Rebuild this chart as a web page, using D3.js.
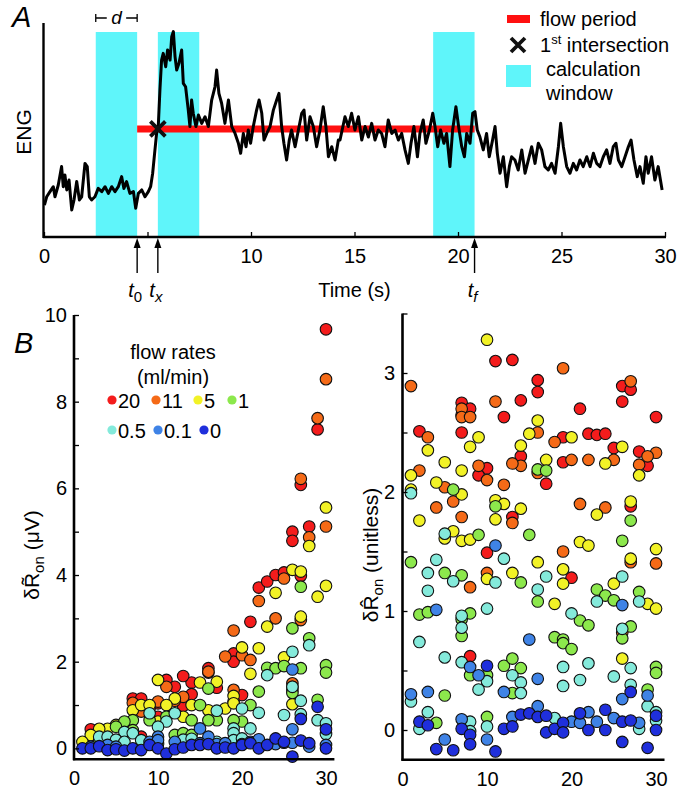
<!DOCTYPE html>
<html>
<head>
<meta charset="utf-8">
<script src="https://cdn.jsdelivr.net/npm/d3@7"></script>
<style>
body { margin: 0; background: #fff; }
svg { display: block; font-family: "Liberation Sans", Arial, sans-serif; }
</style>
</head>
<body>
<script>
"use strict";

// ---------------- panel A data (time in s, ENG in arbitrary units 0-100)
var engTrace = [[0.02,14.9],[0.13,18.8],[0.29,21.2],[0.45,23.5],[0.53,18.8],[0.69,24.3],[0.85,32.9],[0.93,23.5],[1.01,29.0],[1.10,22.0],[1.21,26.6],[1.34,12.6],[1.45,17.3],[1.58,25.9],[1.71,17.3],[1.82,18.8],[1.98,34.4],[2.09,32.9],[2.19,18.8],[2.30,17.3],[2.46,18.8],[2.62,22.7],[2.79,21.2],[2.95,23.5],[3.11,20.4],[3.27,23.5],[3.43,21.2],[3.59,23.5],[3.75,28.2],[3.86,22.7],[3.99,25.9],[4.15,20.4],[4.32,21.2],[4.43,13.4],[4.56,20.4],[4.72,22.0],[4.88,18.8],[5.04,21.2],[5.15,23.5],[5.25,29.8],[5.36,40.7],[5.44,48.4],[5.52,51.6],[5.60,68.7],[5.68,82.7],[5.76,85.8],[5.88,79.6],[5.97,87.4],[6.09,82.7],[6.17,93.6],[6.25,96.0],[6.33,84.3],[6.41,78.0],[6.52,81.2],[6.65,87.4],[6.73,71.8],[6.84,70.2],[6.97,59.3],[7.05,51.6],[7.13,64.0],[7.21,57.8],[7.34,51.6],[7.46,57.0],[7.62,53.1],[7.78,56.2],[7.94,51.6],[8.10,64.0],[8.26,70.2],[8.34,78.0],[8.45,67.1],[8.58,62.5],[8.74,53.1],[8.91,64.0],[9.07,51.6],[9.23,48.4],[9.39,43.8],[9.50,39.1],[9.63,48.4],[9.76,42.2],[9.87,50.0],[9.98,43.8],[10.11,51.6],[10.27,59.3],[10.39,64.0],[10.52,57.8],[10.63,45.3],[10.76,48.4],[10.92,51.6],[11.08,59.3],[11.24,64.0],[11.35,67.1],[11.48,51.6],[11.59,43.8],[11.72,36.0],[11.85,45.3],[11.96,50.0],[12.13,42.2],[12.29,50.0],[12.45,57.8],[12.56,59.3],[12.69,45.3],[12.85,56.2],[13.01,51.6],[13.17,42.2],[13.33,50.0],[13.49,60.9],[13.62,51.6],[13.74,37.5],[13.90,42.2],[14.06,36.0],[14.22,45.3],
  [14.30,45.3],[14.54,56.2],[14.70,51.6],[14.86,57.8],[15.02,50.0],[15.19,56.2],[15.35,45.3],[15.51,51.6],[15.67,46.7],[15.83,53.1],[15.99,45.3],[16.15,50.0],[16.31,48.4],[16.47,42.2],[16.63,54.7],[16.80,48.4],[16.96,50.0],[17.12,45.3],[17.28,48.4],[17.44,40.7],[17.60,34.4],[17.73,43.8],[17.87,51.6],[18.04,37.5],[18.16,48.4],[18.32,54.7],[18.45,43.8],[18.62,50.0],[18.78,57.8],[18.89,51.6],[19.02,42.2],[19.16,50.0],[19.32,43.8],[19.45,48.4],[19.61,32.9],[19.74,50.0],[19.90,60.9],[20.03,51.6],[20.18,42.2],[20.31,37.5],[20.42,48.4],[20.58,43.8],[20.71,57.8],[20.82,58.6],[20.93,50.0],[21.06,46.7],[21.22,40.7],[21.38,48.4],[21.51,37.5],[21.67,45.3],[21.79,51.6],[21.90,39.1],[22.03,29.8],[22.19,37.5],[22.35,23.5],[22.48,32.9],[22.59,37.5],[22.75,36.0],[22.91,31.3],[23.08,40.7],[23.24,29.8],[23.40,36.0],[23.56,42.2],[23.72,34.4],[23.88,43.8],[24.04,40.7],[24.20,32.9],[24.36,31.3],[24.52,34.4],[24.69,29.8],[24.85,42.2],[24.96,53.1],[25.09,42.2],[25.25,32.9],[25.41,29.8],[25.57,34.4],[25.73,31.3],[25.89,36.0],[26.05,32.9],[26.22,37.5],[26.38,32.9],[26.54,39.1],[26.70,34.4],[26.86,32.9],[27.02,37.5],[27.18,40.7],[27.34,34.4],[27.50,42.2],[27.63,43.8],[27.75,36.0],[27.91,32.9],[28.07,37.5],[28.23,42.2],[28.36,45.3],[28.50,36.0],[28.66,28.2],[28.79,32.9],[28.95,25.1],[29.08,37.5],[29.19,29.8],[29.35,37.5],[29.51,26.6],[29.67,32.9],[29.78,26.6],[29.86,22.0]];
var flowPeriod = [4.5, 20.8];
var flowLevel = 50.5;
var intersection = [5.5, 50.5];
var calcWindows = [[2.5, 4.5], [5.5, 7.5], [18.8, 20.8]];
var eventTimes = [4.5, 5.5, 20.8];
var eventSubs = ["0", "x", "f"];
var timeTicks = [0, 5, 10, 15, 20, 25, 30];

// ---------------- panel B data: [trial, value] per flow rate (ml/min)
var flowRates = ["20", "11", "5", "1", "0.5", "0.1", "0"];
var rateColors = ["#f41c1c", "#f56a17", "#f2f226", "#8ce84c", "#84eadb", "#3f83e6", "#1f2fdc"];

var leftRate20 = [[30,9.67],[29,7.36],[27,6.08],[26,5.0],[26,4.79],[28,5.12],[22,3.71],[23,3.85],[24,4.0],[25,4.06],[27,3.98],[21,2.92],[19,2.19],[19,2.0],[16,1.85],[16,1.75],[17,1.4],[14,1.52],[13,1.67],[11,1.58],[12,1.42],[14,1.25],[13,0.98],[10,1.04],[9,0.92],[7,1.15],[8,1.15],[10,0.73],[20,1.23],[2,0.44],[8,0.27]];
var leftRate11 = [[30,8.52],[29,7.62],[27,6.22],[30,5.12],[28,4.87],[25,3.92],[22,3.4],[24,3.0],[27,2.96],[19,2.72],[20,2.15],[18,2.12],[21,2.04],[16,1.77],[11,1.42],[13,1.19],[10,1.08],[7,1.05],[8,0.85],[19,1.35],[26,1.5],[26,1.42],[12,1.1]];
var leftRate5 = [[30,5.56],[28,4.67],[26,4.12],[27,4.08],[24,3.59],[30,3.75],[29,3.5],[23,2.81],[27,3.04],[22,2.31],[20,2.33],[25,2.1],[21,1.72],[17,1.54],[15,1.52],[10,1.58],[12,1.15],[14,1.0],[11,1.0],[7,0.88],[8,1.0],[10,0.62],[13,0.73],[16,0.88],[18,0.92],[19,1.08],[19,1.21],[19,1.04],[26,1.02],[6,0.54],[5,0.54],[4,0.45],[3,0.45],[2,0.31],[1,0.15],[9,1.0]];
var leftRate1 = [[27,3.73],[26,2.77],[28,2.54],[23,1.86],[24,1.85],[25,1.9],[27,1.85],[30,1.92],[30,1.75],[16,1.38],[15,1.0],[21,1.0],[22,1.31],[20,0.62],[19,0.65],[17,0.65],[16,0.65],[14,0.65],[26,1.35],[26,1.28],[29,1.12],[12,0.31],[13,0.35],[14,0.31],[11,0.73],[9,0.65],[10,0.1],[7,0.65],[6,0.62],[5,0.5],[3,0.19],[5,0.12],[7,0.42]];
var leftRate05 = [[28,2.38],[26,2.23],[23,1.69],[17,0.87],[20,0.92],[22,0.82],[21,0.46],[19,0.46],[19,0.35],[27,1.1],[25,0.77],[27,0.79],[29,0.65],[30,0.58],[30,0.33],[12,0.81],[11,0.62],[9,0.81],[10,0.5],[6,0.38],[3,0.27],[4,0.27],[7,0.35],[8,0.19],[5,0.2],[6,0.15],[13,0.2],[14,0.22],[17,0.15],[19,0.19],[20,0.23],[26,1.42]];
var leftRate01 = [[26,1.82],[15,0.46],[16,0.27],[10,0.27],[26,0.44],[2,0.04],[4,0.08],[5,0.04],[9,0.15],[10,0.19],[12,0.15],[15,0.12],[17,0.1],[18,0.12],[20,0.1],[21,0.15],[22,0.21],[24,0.1],[25,0.13],[28,0.04],[30,0.08],[26,0.13]];
var leftRate0 = [[29,0.96],[27,0.68],[30,0.44],[1,0],[2,0],[3,0.05],[4,-0.04],[5,-0.02],[6,-0.05],[7,0],[8,-0.04],[9,0.08],[10,0],[11,-0.12],[12,-0.02],[13,0.02],[14,0.08],[15,0.08],[16,0.1],[17,0],[18,0.02],[19,0],[20,0.08],[21,0.12],[22,0],[23,0.08],[24,0.23],[25,0.15],[26,-0.19],[27,0.18],[28,0.12],[30,0]];

var rightRate20 = [[11,3.10],[13,3.11],[16,2.94],[16,2.84],[26,2.89],[27,2.86],[26,2.76],[14,2.77],[21,2.70],[30,2.63],[12,2.63],[7,2.75],[8,2.70],[7,2.65],[2,2.51],[7,2.50],[14,2.30],[19,2.46],[22,2.49],[23,2.48],[24,2.49],[25,2.37],[28,2.34],[29,2.22],[19,2.25],[17,2.07],[10,2.20],[9,2.14],[27,1.88],[13,1.79],[10,1.49],[20,1.28],[8,0.62]];
var rightRate11 = [[19,3.04],[1,2.89],[27,2.93],[11,2.76],[7,2.70],[7,2.63],[8,2.63],[3,2.46],[16,2.50],[14,2.22],[13,2.24],[18,2.42],[25,2.27],[30,2.33],[29,2.30],[28,2.23],[20,2.27],[22,2.27],[16,2.16],[9,2.22],[10,2.10],[12,2.06],[2,2.18],[5,2.04],[6,1.92],[4,1.87],[21,1.90],[24,1.87],[7,1.79],[13,1.74],[19,1.50],[10,1.32],[8,1.20],[27,1.41],[30,1.40],[26,0.82]];
var rightRate5 = [[10,3.28],[9,2.46],[8,2.38],[3,2.35],[16,2.60],[15,2.49],[14,2.39],[20,2.46],[26,2.38],[28,2.14],[24,2.24],[17,2.27],[5,2.25],[7,2.18],[1,2.14],[1,2.02],[4,2.08],[7,1.98],[11,1.93],[12,1.90],[14,1.86],[27,1.92],[11,1.77],[23,1.81],[2,1.76],[5,1.61],[6,1.67],[7,1.59],[8,1.60],[21,1.58],[22,1.55],[30,1.52],[10,1.27],[13,1.32],[16,1.41],[19,1.35],[19,1.23],[25,1.23],[27,1.44],[18,1.06],[29,1.06],[30,1.02],[26,0.60]];
var rightRate1 = [[16,2.19],[17,2.18],[6,2.02],[11,1.88],[27,1.76],[9,1.64],[15,1.64],[26,1.59],[1,1.41],[5,1.32],[7,1.30],[14,1.24],[16,1.08],[23,1.18],[24,1.13],[25,1.09],[28,1.16],[2,0.97],[3,0.99],[7,0.93],[7,0.79],[8,0.98],[21,0.92],[22,0.88],[18,0.78],[19,0.76],[19,0.73],[20,0.68],[26,0.77],[27,0.87],[8,0.46],[10,0.46],[12,0.54],[13,0.60],[14,0.52],[13,0.31],[30,0.53],[30,0.48],[5,0.29],[29,0.34],[4,0.06],[10,0.11]];
var rightRate05 = [[1,1.99],[5,1.65],[4,1.43],[3,1.32],[3,1.17],[6,1.25],[11,1.24],[12,1.44],[17,1.29],[16,1.18],[26,1.29],[23,1.08],[28,1.08],[10,1.02],[20,0.98],[2,0.74],[7,0.96],[7,0.86],[26,0.85],[5,0.61],[7,0.57],[10,0.41],[9,0.34],[13,0.46],[14,0.40],[14,0.31],[19,0.53],[19,0.37],[21,0.42],[22,0.56],[25,0.45],[27,0.52],[27,0.38],[1,0.24],[29,0.20],[3,0.15],[2,0.01],[8,0.07],[8,-0.01],[10,0.03],[18,0.10],[28,0.01],[30,0.15],[30,0.08]];
var rightRate01 = [[11,1.55],[4,1.01],[26,1.05],[15,0.76],[8,0.53],[9,0.46],[16,0.43],[12,0.32],[26,0.26],[1,0.30],[3,0.32],[29,0.29],[7,0.09],[16,0.20],[13,0.11],[20,0.07],[22,0.15],[23,0.07],[25,0.10],[28,0.06],[5,-0.08],[10,-0.08],[21,0.06]];
var rightRate0 = [[10,0.54],[27,0.32],[2,0.07],[3,0.04],[7,0.01],[8,-0.04],[4,-0.16],[6,-0.17],[8,-0.12],[11,-0.18],[12,0.01],[13,0.03],[14,0.13],[15,0.14],[16,0.11],[17,0.12],[17,-0.02],[18,0.01],[19,0.06],[19,-0.02],[21,0.14],[22,0.0],[24,0.17],[24,0.0],[26,0.07],[27,0.08],[26,-0.10],[29,-0.15],[30,0.12],[30,0.0]];

var leftTicks = d3.range(0, 11);
var rightTicks = d3.range(0, 3.75, 0.5);
var trialTicks = [0, 10, 20, 30];

var svg = d3.select("body").append("svg")
    .attr("width", 683)
    .attr("height", 789);

//================ panel A
var xA = d3.scaleLinear().domain([0, 30]).range([44, 665]);
var yA = d3.scaleLinear().domain([0, 100]).range([237, 23]);
var gA = svg.append("g");

gA.selectAll("rect.win").data(calcWindows).enter().append("rect")
    .attr("class", "win")
    .attr("x", function (d) { return xA(d[0]); })
    .attr("width", function (d) { return xA(d[1]) - xA(d[0]); })
    .attr("y", 32)
    .attr("height", 237 - 32)
    .attr("fill", "#5ff5fa");

// flow period bar
gA.append("line")
    .attr("x1", xA(flowPeriod[0])).attr("x2", xA(flowPeriod[1]))
    .attr("y1", yA(flowLevel)).attr("y2", yA(flowLevel))
    .attr("stroke", "#ff1010").attr("stroke-width", 7);

gA.append("path")
    .datum(engTrace)
    .attr("fill", "none")
    .attr("stroke", "#000")
    .attr("stroke-width", 3)
    .attr("stroke-linejoin", "round")
    .attr("d", d3.line().x(function (d) { return xA(d[0]); }).y(function (d) { return yA(d[1]); }));

function cross(g, cx, cy, s) {
    g.append("path")
        .attr("d", "M" + (cx - s) + "," + (cy - s) + "L" + (cx + s) + "," + (cy + s) +
            "M" + (cx - s) + "," + (cy + s) + "L" + (cx + s) + "," + (cy - s))
        .attr("stroke", "#111").attr("stroke-width", 3.8).attr("fill", "none");
}
cross(gA, xA(intersection[0]), yA(intersection[1]), 7.5);

// axes A
var axA = d3.axisBottom(xA)
    .tickValues(timeTicks)
    .tickSizeInner(-5)
    .tickSizeOuter(0)
    .tickPadding(12)
    .tickFormat(function (d) { return d === 5 ? "" : d; });
var axAg = gA.append("g").attr("transform", "translate(0,237)").call(axA);
axAg.select(".domain").remove();
axAg.selectAll("line").attr("stroke-width", 1.3);
axAg.selectAll("text").attr("font-size", 20).attr("font-family", "Liberation Sans, Arial, sans-serif").attr("fill", "#000");
gA.append("line").attr("x1", 43).attr("x2", 666).attr("y1", 237).attr("y2", 237).attr("stroke", "#000").attr("stroke-width", 2.4);
gA.append("line").attr("x1", 43.5).attr("x2", 43.5).attr("y1", 23).attr("y2", 238).attr("stroke", "#000").attr("stroke-width", 2.4);

// event arrows
eventTimes.forEach(function (t, i) {
    var x = xA(t);
    gA.append("line").attr("x1", x).attr("x2", x).attr("y1", 273).attr("y2", 244)
        .attr("stroke", "#000").attr("stroke-width", 1.4);
    gA.append("path").attr("d", "M" + x + ",238L" + (x - 3.5) + ",248L" + (x + 3.5) + ",248Z").attr("fill", "#000");
    var tl = gA.append("text").attr("x", x - 2).attr("y", 297).attr("text-anchor", "middle").attr("font-size", 20);
    tl.append("tspan").attr("font-style", "italic").text("t");
    tl.append("tspan").attr("font-style", eventSubs[i] === "0" ? "normal" : "italic").attr("font-size", 15).attr("dy", 5).text(eventSubs[i]);
});

gA.append("text").attr("x", xA(15)).attr("y", 297).attr("text-anchor", "middle").attr("font-size", 20).text("Time (s)");
gA.append("text").attr("transform", "translate(31,132) rotate(-90)").attr("text-anchor", "middle").attr("font-size", 21).text("ENG");
gA.append("text").attr("x", 12).attr("y", 27).attr("font-size", 29).attr("font-style", "italic").text("A");

// d annotation
var dA = xA(calcWindows[0][0]), dB = xA(calcWindows[0][1]);
gA.append("path")
    .attr("d", "M" + dA + ",14V22M" + dA + ",18H" + (dA + 11) + "M" + dB + ",14V22M" + dB + ",18H" + (dB - 11))
    .attr("stroke", "#000").attr("stroke-width", 1.3).attr("fill", "none");
gA.append("text").attr("x", (dA + dB) / 2).attr("y", 24).attr("text-anchor", "middle")
    .attr("font-size", 19).attr("font-style", "italic").text("d");

// legend A
gA.append("rect").attr("x", 507).attr("y", 15).attr("width", 23).attr("height", 8).attr("fill", "#ff1010");
gA.append("text").attr("x", 540).attr("y", 26).attr("font-size", 20).text("flow period");
cross(gA, 518, 45, 7);
var li = gA.append("text").attr("x", 540).attr("y", 52).attr("font-size", 20);
li.append("tspan").text("1");
li.append("tspan").attr("font-size", 13).attr("dy", -8).text("st");
li.append("tspan").attr("dy", 8).text(" intersection");
gA.append("rect").attr("x", 506).attr("y", 65).attr("width", 25).attr("height", 22).attr("fill", "#5ff5fa");
gA.append("text").attr("x", 546).attr("y", 76).attr("font-size", 20).text("calculation");
gA.append("text").attr("x", 546).attr("y", 100).attr("font-size", 20).text("window");

//================ panel B
function scatterPanel(xs, ys, series, ticks, labelFn, yPad) {
    var g = svg.append("g");
    series.forEach(function (pts, i) {
        g.selectAll(null).data(pts).enter().append("circle")
            .attr("cx", function (d) { return xs(d[0]); })
            .attr("cy", function (d) { return ys(d[1]); })
            .attr("r", 5.8)
            .attr("fill", rateColors[i])
            .attr("stroke", "#111")
            .attr("stroke-width", 1.1);
    });
    var yAx = d3.axisLeft(ys).tickValues(ticks).tickSizeInner(-5).tickSizeOuter(0)
        .tickPadding(yPad).tickFormat(labelFn);
    var yg = g.append("g").attr("transform", "translate(" + xs(0) + ",0)").call(yAx);
    yg.select(".domain").remove();
    yg.selectAll("line").attr("stroke-width", 1.3);
    yg.selectAll("text").attr("font-size", 20).attr("font-family", "Liberation Sans, Arial, sans-serif").attr("fill", "#000");
    var xAx = d3.axisBottom(xs).tickValues(trialTicks).tickSize(0).tickPadding(12);
    var xg = g.append("g").attr("transform", "translate(0," + ys.range()[0] + ")").call(xAx);
    xg.select(".domain").remove();
    xg.selectAll("text").attr("font-size", 20).attr("font-family", "Liberation Sans, Arial, sans-serif").attr("fill", "#000");
    g.append("line").attr("x1", xs(0)).attr("x2", xs(0)).attr("y1", ys.range()[1]).attr("y2", ys.range()[0] + 1)
        .attr("stroke", "#000").attr("stroke-width", 2.6);
    g.append("line").attr("x1", xs(0) - 1).attr("x2", xs.range()[1]).attr("y1", ys.range()[0]).attr("y2", ys.range()[0])
        .attr("stroke", "#000").attr("stroke-width", 2.6);
    return g;
}

var xL = d3.scaleLinear().domain([0, 31]).range([74, 334.4]);
var yL = d3.scaleLinear().domain([-0.25, 10]).range([759.2, 315]);
var gL = scatterPanel(xL, yL,
    [leftRate20, leftRate11, leftRate5, leftRate1, leftRate05, leftRate01, leftRate0],
    leftTicks, function (d) { return d % 2 === 0 ? d : ""; }, 7);

var xR = d3.scaleLinear().domain([0, 31]).range([402.5, 664.5]);
var yR = d3.scaleLinear().domain([-0.25, 3.5]).range([759.75, 313.5]);
var gR = scatterPanel(xR, yR,
    [rightRate20, rightRate11, rightRate5, rightRate1, rightRate05, rightRate01, rightRate0],
    rightTicks, function (d) { return d % 1 === 0 ? d : ""; }, 7.5);

// y labels
var yl1 = svg.append("text").attr("transform", "translate(39,555) rotate(-90)").attr("text-anchor", "middle").attr("font-size", 21);
yl1.append("tspan").text("\u03b4R\u0303");
yl1.append("tspan").attr("font-size", 15).attr("dy", 5).text("on");
yl1.append("tspan").attr("dy", -5).text(" (\u03bcV)");
var yl2 = svg.append("text").attr("transform", "translate(378,555) rotate(-90)").attr("text-anchor", "middle").attr("font-size", 21);
yl2.append("tspan").text("\u03b4R\u0302");
yl2.append("tspan").attr("font-size", 15).attr("dy", 5).text("on");
yl2.append("tspan").attr("dy", -5).text(" (unitless)");

svg.append("text").attr("x", 14).attr("y", 353).attr("font-size", 29).attr("font-style", "italic").text("B");

// legend B
svg.append("text").attr("x", 173).attr("y", 359).attr("text-anchor", "middle").attr("font-size", 20).text("flow rates");
svg.append("text").attr("x", 173).attr("y", 384).attr("text-anchor", "middle").attr("font-size", 20).text("(ml/min)");
var legX = [112, 156, 198, 232, 112, 158, 204];
var legRow = [0, 0, 0, 0, 1, 1, 1];
flowRates.forEach(function (r, i) {
    var cy = legRow[i] === 0 ? 400 : 430;
    svg.append("circle").attr("cx", legX[i]).attr("cy", cy).attr("r", 4.6).attr("fill", rateColors[i]);
    svg.append("text").attr("x", legX[i] + 6).attr("y", cy + 8).attr("font-size", 20).text(r);
});
</script>
</body>
</html>
